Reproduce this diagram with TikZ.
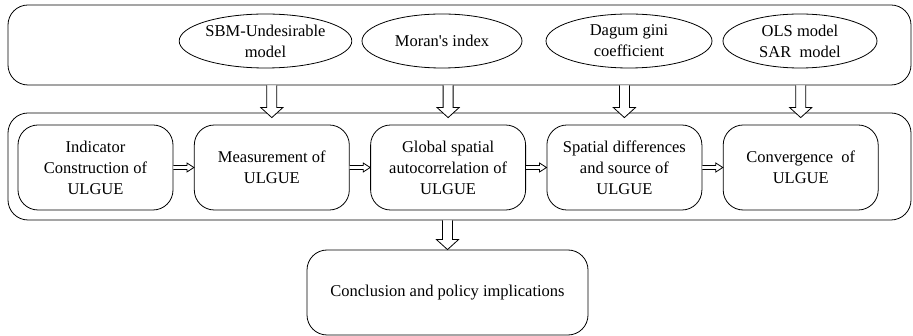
\documentclass[tikz,border=0pt]{standalone}
\usepackage{fontspec}
\setmainfont{Liberation Serif}[Ligatures=TeXOff]
\newfontfamily\timesfont{Liberation Serif}[Ligatures=TeXOff]
\usetikzlibrary{positioning,shapes.geometric,calc}

\tikzset{
  frame/.style={draw, rounded corners=20pt, minimum width=903pt},
  stage/.style={draw, rounded corners=20pt, minimum width=155pt, minimum height=85pt, align=center},
  method/.style={draw, ellipse, align=center, minimum height=54pt, inner sep=1pt},
  downarrow/.style={draw, fill=white, to path={let \p1=(\tikztostart), \p2=(\tikztotarget) in
      (\x1-5pt,\y1) -- (\x1-5pt,\y2+10pt) -- (\x1-11pt,\y2+10pt) -- (\x1,\y2)
      -- (\x1+11pt,\y2+10pt) -- (\x1+5pt,\y2+10pt) -- (\x1+5pt,\y1)}},
  rightarrow/.style={draw, fill=white, to path={let \p1=(\tikztostart), \p2=(\tikztotarget) in
      (\x1,\y1+2pt) -- (\x2-7pt,\y1+2pt) -- (\x2-7pt,\y1+4.5pt) -- (\x2,\y1)
      -- (\x2-7pt,\y1-4.5pt) -- (\x2-7pt,\y1-2pt) -- (\x1,\y1-2pt)}}
}

\begin{document}
\begin{tikzpicture}[x=1pt, y=-1pt, line width=0.8pt,
    every node/.style={font=\timesfont\fontsize{16.5}{21}\selectfont}]
    \useasboundingbox (0,0) rectangle (913,336);
    % frames
    \node(top)[frame, minimum height=80pt] at (459.5,45) {};
    \node(mid)[frame, minimum height=107pt] at (459.5,166.5) {};
    % methods
    \node(sbm)[method, minimum width=145pt] at (265.5,41) {SBM-Undesirable\\model};
    \node(moran)[method, minimum width=160pt] at (442,41) {Moran's index};
    \node(dagum)[method, minimum width=166pt] at (629,41) {Dagum gini\\coefficient};
    \node(ols)[method, minimum width=154pt] at (800,41) {OLS model\\SAR\ \ model};
    % stages
    \node(b1)[stage] at (95.5,167.5) {Indicator\\Construction of\\ULGUE};
    \node(b2)[stage, right=20.5pt of b1] {Measurement of\\ULGUE};
    \node(b3)[stage, right=20.5pt of b2] {Global spatial\\autocorrelation of\\ULGUE};
    \node(b4)[stage, right=20.5pt of b3] {Spatial differences\\and source of\\ULGUE};
    \node(b5)[stage, right=20.5pt of b4] {Convergence\ \ of\\ULGUE};
    \node(end)[stage, minimum width=281pt] at (447.5,292.5) {Conclusion and policy implications};
    % arrows
    \draw[downarrow] (b2 |- top.south) to ($(b2 |- mid.north)+(0,5)$);
    \draw[downarrow] (b3 |- top.south) to ($(b3 |- mid.north)+(0,5)$);
    \draw[downarrow] (b4 |- top.south) to ($(b4 |- mid.north)+(0,5)$);
    \draw[downarrow] (b5 |- top.south) to ($(b5 |- mid.north)+(0,5)$);
    \draw[rightarrow] (b1.east) to (b2.west);
    \draw[rightarrow] (b2.east) to (b3.west);
    \draw[rightarrow] (b3.east) to (b4.west);
    \draw[rightarrow] (b4.east) to (b5.west);
    \draw[downarrow] (end |- mid.south) to (end.north);
\end{tikzpicture}
\end{document}
